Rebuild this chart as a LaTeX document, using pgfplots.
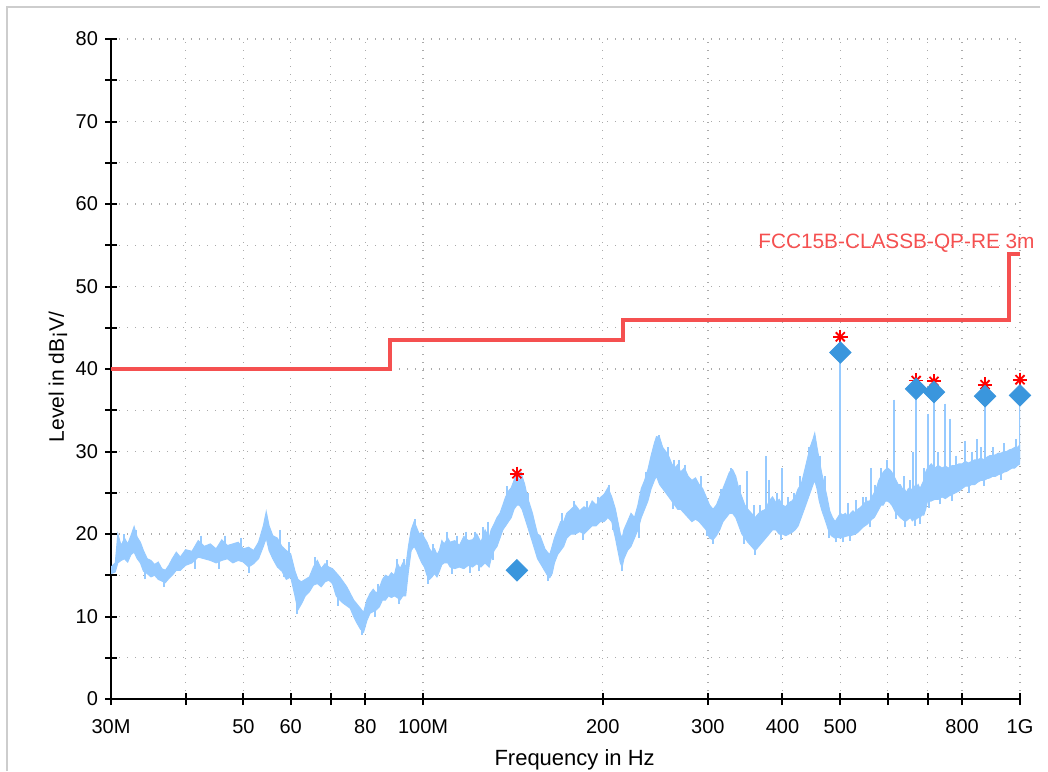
\documentclass[border=0pt]{standalone}
\usepackage{fontspec}
\setmainfont{Liberation Sans}
\usepackage{pgfplots}
\pgfplotsset{compat=1.18}
\usepgfplotslibrary{fillbetween}
\usepackage{pgfplotstable}

\definecolor{spec}{RGB}{150,202,255}
\definecolor{diam}{RGB}{58,150,221}
\definecolor{lim}{RGB}{245,80,80}
\definecolor{gridc}{RGB}{170,170,170}
\definecolor{framec}{RGB}{205,205,205}

\pgfplotstableread{
f lo hi
30.0 15.2 16.0
30.5 15.4 16.5
30.8 16.5 20.0
31.2 16.8 18.6
31.6 17.0 19.5
32.0 16.6 18.8
32.4 17.5 19.8
32.8 17.8 20.9
33.2 17.0 19.6
33.6 16.5 19.0
34.0 15.5 18.0
34.5 15.2 17.0
35.0 14.8 16.8
35.5 15.0 16.3
36.0 14.5 16.6
36.5 14.3 15.8
37.0 14.1 15.6
37.5 14.6 16.2
38.0 15.0 17.0
38.6 15.6 17.8
39.2 15.6 17.2
40.0 16.2 18.1
41.0 16.5 17.9
42.0 17.2 19.2
43.0 17.0 18.5
44.0 16.8 18.8
45.0 16.5 18.2
46.0 16.8 19.3
47.0 17.0 18.6
48.0 16.5 18.8
49.0 16.8 19.0
50.0 16.6 18.2
51.0 16.0 18.4
52.0 16.4 18.0
53.0 17.0 19.0
54.0 18.5 21.0
54.6 19.5 22.7
55.2 18.0 21.0
56.0 17.0 19.8
57.0 16.0 19.5
58.0 15.5 18.5
59.0 14.5 18.0
60.0 14.8 17.6
61.0 12.5 15.5
61.7 10.8 14.5
62.5 11.5 14.2
63.5 12.5 14.5
64.5 13.0 14.8
65.5 13.8 16.0
66.5 14.0 16.8
67.5 13.6 15.8
68.5 14.2 16.4
69.5 14.4 16.0
70.5 14.0 15.8
71.5 12.5 15.3
72.5 12.0 14.8
73.5 11.6 14.2
74.5 11.3 13.6
75.5 11.0 12.8
76.5 10.0 12.0
77.5 9.2 11.5
78.5 8.5 11.0
79.5 8.1 10.5
80.5 9.5 12.0
81.5 10.4 12.8
82.5 10.6 13.3
83.5 10.8 12.8
84.5 11.2 13.5
85.5 12.0 14.5
86.5 12.0 15.0
87.5 12.5 14.8
88.5 12.3 15.3
89.5 12.5 15.0
90.5 12.3 16.5
91.5 12.0 15.8
92.5 12.5 16.5
93.5 12.5 16.0
94.5 15.5 18.5
95.5 18.0 20.5
96.6 18.5 21.5
97.5 18.0 20.8
98.5 17.2 20.0
99.5 16.5 20.2
100.5 16.0 19.5
101.5 15.0 19.0
102.5 14.5 18.2
103.5 14.8 17.8
104.5 15.2 18.2
105.5 14.8 17.5
106.5 15.5 18.0
107.5 16.3 19.2
108.5 16.5 18.8
110.0 16.5 19.5
111.0 16.0 19.0
113.0 15.8 19.2
115.0 16.0 18.6
117.0 15.8 19.7
119.0 16.2 19.2
121.0 16.0 19.3
123.0 16.4 20.0
125.0 16.0 19.0
127.0 16.5 20.5
129.0 16.0 19.5
130.0 17.0 20.5
131.5 18.0 21.2
133.0 18.5 22.0
134.5 19.5 22.5
136.0 20.5 23.5
137.5 21.0 24.5
139.0 21.5 25.2
140.5 22.0 25.6
142.0 23.0 26.5
143.6 23.5 27.3
145.0 23.5 26.5
146.5 23.0 27.0
148.0 22.0 26.0
149.5 21.0 24.5
151.0 20.0 23.5
152.5 19.0 22.5
154.0 18.0 21.2
155.5 17.0 20.0
157.0 16.5 19.8
158.5 16.0 19.0
160.0 15.5 18.2
161.5 15.0 17.8
163.0 14.7 17.5
164.5 15.2 18.5
166.0 16.5 19.5
168.0 17.5 20.5
170.0 18.0 21.5
172.0 18.5 21.5
174.0 19.5 22.5
177.0 20.0 23.0
180.0 20.0 23.5
183.0 20.3 22.8
186.0 20.0 23.3
189.0 20.5 23.0
192.0 21.0 24.0
195.0 21.0 23.5
198.0 21.5 24.4
201.0 21.5 24.8
204.0 22.0 25.6
207.0 21.5 24.5
210.0 19.5 23.0
212.0 18.0 21.5
214.0 16.5 20.0
215.5 16.0 19.5
217.0 17.0 20.5
220.0 18.0 21.5
223.0 18.5 22.5
226.0 19.5 22.0
229.0 20.5 23.5
232.0 22.0 25.5
235.0 23.0 26.5
238.0 24.0 27.8
241.0 25.5 29.5
244.0 26.5 31.0
246.0 27.0 31.8
249.0 26.0 31.7
252.0 25.5 30.5
255.0 25.0 30.0
258.0 24.5 29.4
261.0 24.0 28.5
264.0 23.5 28.0
267.0 23.0 28.4
270.0 23.0 27.5
274.0 22.5 28.0
278.0 22.0 27.0
282.0 21.5 26.5
286.0 21.8 26.8
290.0 21.5 26.0
294.0 21.0 25.5
298.0 20.5 24.5
302.0 19.5 23.5
306.0 19.3 23.0
310.0 19.8 23.5
314.0 20.5 24.5
318.0 21.5 25.5
322.0 22.0 26.5
326.0 22.5 27.5
330.0 22.5 27.8
334.0 22.0 27.0
338.0 21.0 25.5
342.0 20.0 24.5
346.0 19.5 23.5
350.0 19.0 23.0
355.0 18.5 22.5
360.0 18.0 22.0
365.0 18.5 22.5
370.0 19.0 22.8
375.0 19.5 23.0
380.0 20.0 24.0
385.0 20.5 24.5
390.0 20.5 23.8
395.0 20.0 24.2
400.0 20.0 23.5
405.0 19.8 23.3
410.0 20.0 23.8
415.0 20.2 24.0
420.0 20.5 24.5
425.0 21.0 25.5
430.0 22.0 26.0
435.0 23.0 27.5
440.0 24.0 29.0
445.0 25.0 30.5
450.0 26.0 31.5
453.0 26.5 32.2
457.0 25.5 30.5
461.0 24.0 29.0
465.0 23.0 27.5
470.0 22.0 26.0
475.0 21.0 24.5
480.0 20.0 22.8
485.0 19.7 22.0
490.0 19.5 21.5
495.0 19.6 22.0
500.0 19.5 22.5
505.0 19.6 22.3
510.0 19.7 22.5
515.0 19.8 22.0
520.0 19.8 22.5
525.0 19.9 22.8
530.0 20.0 22.5
535.0 20.2 23.0
540.0 20.5 23.2
545.0 20.8 23.5
550.0 21.0 23.8
555.0 21.2 24.0
560.0 21.5 24.0
565.0 21.8 24.5
570.0 22.0 25.0
575.0 22.5 25.6
580.0 23.0 26.5
585.0 23.5 27.0
590.0 23.5 27.5
595.0 24.0 27.8
600.0 24.0 28.0
605.0 23.8 27.8
610.0 23.5 27.5
615.0 23.0 27.0
620.0 22.5 26.5
625.0 22.3 26.0
630.0 22.0 26.0
635.0 21.8 25.5
640.0 21.6 25.5
645.0 21.6 25.0
650.0 21.8 25.5
655.0 22.0 25.2
660.0 21.6 25.5
665.0 21.8 25.8
670.0 21.8 25.5
675.0 22.0 26.0
680.0 22.0 25.5
685.0 22.3 26.0
690.0 22.3 26.5
695.0 23.0 27.5
700.0 24.0 28.0
710.0 24.0 28.5
720.0 24.2 28.0
730.0 24.2 28.3
740.0 24.5 28.0
750.0 24.3 28.2
760.0 24.6 28.0
770.0 24.8 28.3
780.0 25.0 28.3
790.0 25.2 28.5
800.0 25.5 28.5
810.0 25.8 28.8
820.0 25.8 28.6
830.0 26.0 28.8
840.0 26.0 29.0
850.0 26.3 29.0
860.0 26.5 29.2
870.0 26.5 29.0
880.0 26.7 29.3
890.0 26.8 29.5
900.0 27.0 29.5
910.0 27.0 29.6
920.0 27.2 29.8
930.0 27.3 29.8
940.0 27.5 30.0
950.0 27.6 30.0
960.0 27.8 30.2
970.0 28.0 30.3
980.0 28.0 30.5
990.0 28.3 30.5
1000.0 28.5 30.8
}\band

% spikes above the band: frequency, top level, length downwards
\pgfplotstableread{
f top len
31.5 20.0 2.5
33.0 20.5 2.5
42.5 19.8 2.5
46.5 19.8 2.5
49.5 19.5 2.5
57.5 20.5 3.0
59.5 19.0 3.0
66.0 17.2 2.5
69.0 16.8 2.5
84.0 14.0 2.5
90.5 17.0 3.0
93.0 17.0 3.0
97.0 21.8 3.0
104.0 18.8 3.0
109.5 20.3 3.0
114.0 19.8 3.0
118.0 20.3 3.0
122.0 20.3 3.0
126.0 20.8 3.0
128.5 21.5 3.0
138.0 25.8 3.0
146.0 27.5 3.0
150.0 25.0 3.0
171.0 22.5 3.0
179.0 24.0 3.0
188.0 24.0 3.0
196.0 24.5 3.0
205.0 26.0 3.0
236.0 27.5 3.0
248.0 32.0 3.0
257.0 30.5 3.0
263.0 29.0 3.0
268.0 29.0 3.0
274.6 28.4 4.0
285.0 26.8 3.5
292.0 27.0 3.5
316.0 25.5 3.5
328.0 28.0 3.5
340.0 26.0 3.5
349.0 27.6 5.0
358.0 23.5 3.0
367.0 23.5 3.0
375.0 29.4 7.0
380.0 26.6 5.0
392.0 25.0 3.0
400.0 28.0 6.0
408.0 24.5 3.0
418.0 25.0 3.0
428.0 27.0 3.5
430.0 26.3 3.0
443.0 30.5 3.5
462.0 29.5 3.5
472.0 27.0 3.5
500.0 42.0 22.0
515.0 23.8 3.0
532.0 24.1 3.0
545.0 24.5 3.0
553.0 24.5 3.0
563.0 28.0 5.0
572.0 26.0 3.0
585.0 28.0 3.0
598.0 29.0 3.0
616.0 36.3 12.0
640.0 27.0 3.0
655.0 26.5 3.0
661.0 30.0 7.0
669.7 37.6 15.0
690.0 28.0 3.0
700.0 34.6 10.0
717.6 37.2 13.0
730.0 30.0 3.0
750.0 35.8 11.0
763.0 34.0 9.0
780.0 29.5 3.0
810.0 31.3 5.0
830.0 30.0 3.0
847.0 31.5 5.0
860.0 30.5 3.0
873.9 36.7 10.0
900.0 30.5 3.0
940.0 31.0 3.0
985.0 31.5 3.0
1000.0 36.8 8.0
}\ups

% dips below the band: frequency, bottom level, length upwards
\pgfplotstableread{
f bot len
34.2 14.5 2.0
36.8 13.6 2.0
41.5 15.8 2.0
45.5 15.8 2.0
51.0 15.3 2.0
58.5 14.8 2.0
61.5 10.3 2.0
72.0 11.3 2.0
79.0 7.8 2.0
83.0 10.0 2.0
91.0 11.5 2.0
102.0 14.0 2.0
112.0 15.2 2.0
120.0 15.3 2.0
124.0 15.5 2.0
131.0 16.8 2.0
162.0 14.3 2.0
185.0 19.3 2.0
208.0 20.5 2.0
215.0 15.5 2.0
230.0 19.5 2.0
262.0 23.0 2.0
299.0 19.8 2.0
306.0 18.8 2.0
345.0 18.8 2.0
360.0 17.5 2.0
398.0 19.3 2.0
478.0 19.5 2.0
492.0 19.0 2.0
505.0 19.0 2.0
520.0 19.2 2.0
560.0 20.8 2.0
620.0 21.8 2.0
642.0 20.8 2.0
668.0 21.0 2.0
680.0 21.2 2.0
705.0 23.2 2.0
735.0 23.6 2.0
770.0 24.0 2.0
820.0 25.0 2.0
870.0 25.8 2.0
930.0 26.6 2.0
}\dips

\begin{document}
\begin{tikzpicture}[x=0.5pt,y=0.5pt]
\draw[framec, line width=1pt] (7,0) -- (7,764) -- (1040,764);
\begin{axis}[
  at={(55.5pt,36pt)}, anchor=south west, scale only axis,
  width=454.5pt, height=330pt,
  xmode=log, xmin=30, xmax=1000, ymin=0, ymax=80,
  axis lines*=left, axis line style={line width=1pt, -},
  xtick={30,40,50,60,70,80,100,200,300,400,500,600,700,800,1000},
  xticklabels={30M,,50,60,,80,100M,200,300,400,500,,,800,1G},
  ytick={0,10,...,80}, minor ytick={5,15,...,75},
  grid=both,
  major grid style={gridc, line width=0.7pt, dash pattern=on 0.7pt off 3.3pt},
  minor grid style={gridc, line width=0.7pt, dash pattern=on 0.7pt off 3.3pt},
  tick align=center, major tick length=6pt, minor tick length=6pt,
  every tick/.style={black, line width=1pt},
  ticklabel style={font=\fontsize{10}{12}\selectfont},
  xticklabel style={yshift=-3.5pt},
  /pgf/number format/assume math mode=true,
  xlabel={Frequency in Hz}, ylabel={Level in dB¡V/},
  xlabel style={font=\fontsize{11}{13}\selectfont, at={(axis description cs:0.51,-0.092)}, anchor=center},
  ylabel style={font=\fontsize{10.5}{12}\selectfont, at={(axis description cs:-0.0583,0.488)}, anchor=center},
]
\addplot[draw=spec, line width=0.5pt, name path=U] table[x=f,y=hi]{\band};
\addplot[draw=spec, line width=0.5pt, name path=L] table[x=f,y=lo]{\band};
\addplot[spec, draw=none] fill between[of=U and L];
\addplot[draw=none, mark=none, error bars/.cd, y dir=minus, y explicit,
  error mark=none, error bar style={spec, line width=1pt}]
  table[x=f, y=top, y error=len]{\ups};
\addplot[draw=none, mark=none, error bars/.cd, y dir=plus, y explicit,
  error mark=none, error bar style={spec, line width=1pt}]
  table[x=f, y=bot, y error=len]{\dips};
\addplot[lim, line width=2pt] coordinates {(30,40) (88,40) (88,43.5) (216,43.5) (216,46) (960,46) (960,54) (1000,54)};
\addplot[only marks, mark=+, mark size=3.6pt, red, mark options={line width=0.9pt}] coordinates {(143.6,27.3) (500,43.9) (670,38.6) (717.6,38.5) (873.9,38.1) (1000,38.7)};
\addplot[only marks, mark=x, mark size=3.2pt, red, mark options={line width=0.9pt}] coordinates {(143.6,27.3) (500,43.9) (670,38.6) (717.6,38.5) (873.9,38.1) (1000,38.7)};
\addplot[only marks, mark=square*, mark size=3.8pt, mark options={rotate=45, fill=diam, draw=diam}] coordinates {(143.6,15.6) (500,42.0) (669.7,37.6) (717.6,37.2) (873.9,36.7) (1000,36.8)};
\coordinate (limlab) at (axis cs:1000,54);
\end{axis}
\node[lim, anchor=base east, inner sep=0pt, font=\fontsize{10.4}{12}\selectfont, xshift=7.5pt, yshift=2.5pt] at (limlab) {FCC15B-CLASSB-QP-RE 3m};
\pgfresetboundingbox
\path[use as bounding box] (0,0) rectangle (1048,771);
\end{tikzpicture}
\end{document}
